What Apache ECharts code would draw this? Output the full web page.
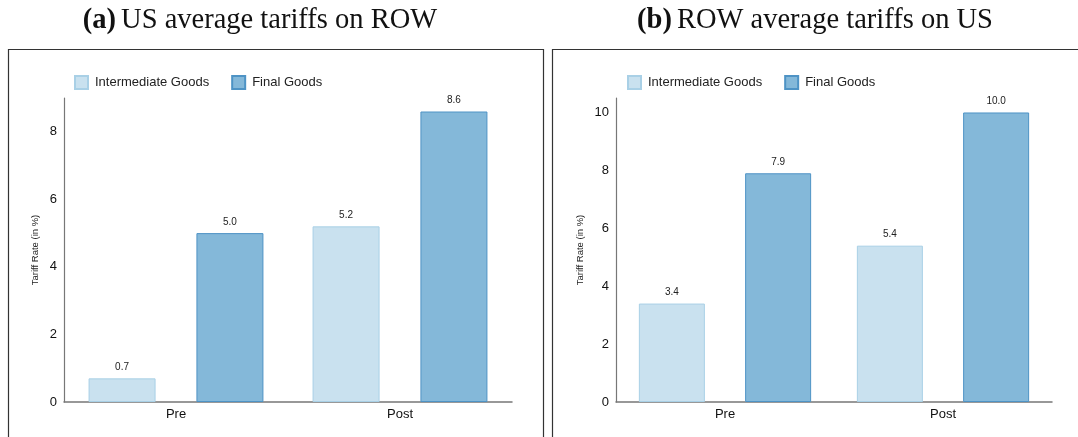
<!DOCTYPE html>
<html>
<head>
<meta charset="utf-8">
<script src="https://cdn.jsdelivr.net/npm/echarts@6/dist/echarts.min.js"></script>
<style>
  html, body { margin: 0; padding: 0; background: #fff; }
  #chart { width: 1078px; height: 437px; }
</style>
</head>
<body>
<div id="chart"></div>
<script>
// Average tariff rates (in %) before and after, by goods type
const categories = ['Pre', 'Post'];
const seriesNames = ['Intermediate Goods', 'Final Goods'];
const usOnRowIntermediate = [0.7, 5.2];
const usOnRowFinal = [5.0, 8.6];
const rowOnUsIntermediate = [3.4, 5.4];
const rowOnUsFinal = [7.9, 10.0];
const panelTitles = [['(a)', 'US average tariffs on ROW'], ['(b)', 'ROW average tariffs on US']];
const yAxisName = 'Tariff Rate (in %)';

const sans = 'Liberation Sans, Arial, sans-serif';
const serif = 'Liberation Serif, Times New Roman, serif';
const colInter = '#c9e1ef', colInterBorder = '#a9d0e6';
const colFinal = '#84b8d9', colFinalBorder = '#4e93c5';

const chart = echarts.init(document.getElementById('chart'), null, { renderer: 'canvas' });

function barSeries(name, data, axisIdx, fill, border, width) {
  return {
    name: name,
    type: 'bar',
    xAxisIndex: axisIdx,
    yAxisIndex: axisIdx,
    data: data,
    barWidth: width,
    barGap: '61%',
    itemStyle: { color: fill, borderColor: border, borderWidth: 1 },
    label: {
      show: true,
      position: 'top',
      distance: 6,
      fontFamily: sans,
      fontSize: 10,
      color: '#222',
      formatter: p => p.value.toFixed(1)
    },
    emphasis: { disabled: true },
    animation: false
  };
}

function titleOf(i, cx) {
  return {
    left: cx,
    top: 1,
    textAlign: 'center',
    text: '{b|' + panelTitles[i][0] + '} {n|' + panelTitles[i][1] + '}',
    textStyle: {
      fontWeight: 'normal',
      rich: {
        b: { fontFamily: serif, fontSize: 28.5, fontWeight: 'bold', color: '#111' },
        n: { fontFamily: serif, fontSize: 28.5, fontWeight: 'normal', color: '#111' }
      }
    }
  };
}

function legendOf(left) {
  return {
    left: left,
    top: 75,
    padding: 0,
    itemWidth: 13,
    itemHeight: 13,
    itemGap: 22,
    icon: 'rect',
    textStyle: { fontFamily: sans, fontSize: 13, color: '#222', padding: [0, 0, 0, 2] },
    data: seriesNames,
    selectedMode: false
  };
}

function yAxisOf(idx, max, nameGap) {
  return {
    type: 'value',
    gridIndex: idx,
    min: 0,
    max: max,
    interval: 2,
    name: yAxisName,
    nameLocation: 'middle',
    nameRotate: 90,
    nameGap: nameGap,
    nameTextStyle: { fontFamily: sans, fontSize: 9.5, color: '#222' },
    axisLine: { show: true, lineStyle: { color: '#777', width: 1.2 } },
    axisTick: { show: false },
    splitLine: { show: false },
    axisLabel: { fontFamily: sans, fontSize: 13, color: '#111', margin: 7, showMaxLabel: false }
  };
}

function xAxisOf(idx) {
  return {
    type: 'category',
    gridIndex: idx,
    data: categories,
    axisLine: { show: true, lineStyle: { color: '#777', width: 1.5 } },
    axisTick: { show: false },
    axisLabel: { fontFamily: sans, fontSize: 13, color: '#111', margin: 6 }
  };
}

chart.setOption({
  backgroundColor: '#fff',
  animation: false,
  title: [titleOf(0, 255), titleOf(1, 810)],
  legend: [
    Object.assign(legendOf(74), { id: 'l0' }),
    Object.assign(legendOf(627), { id: 'l1' })
  ],
  grid: [
    { left: 64, right: 566, top: 98, bottom: 35 },
    { left: 616, right: 26, top: 98, bottom: 35 }
  ],
  xAxis: [xAxisOf(0), xAxisOf(1)],
  yAxis: [yAxisOf(0, 9, 24), yAxisOf(1, 10.5, 31)],
  series: [
    barSeries(seriesNames[0], usOnRowIntermediate, 0, colInter, colInterBorder, 67),
    barSeries(seriesNames[1], usOnRowFinal, 0, colFinal, colFinalBorder, 67),
    barSeries(seriesNames[0], rowOnUsIntermediate, 1, colInter, colInterBorder, 66),
    barSeries(seriesNames[1], rowOnUsFinal, 1, colFinal, colFinalBorder, 66)
  ],
  graphic: [
    // panel frames
    { type: 'rect', shape: { x: 8.5, y: 49.5, width: 535, height: 420 },
      style: { fill: null, stroke: '#333', lineWidth: 1.2 }, silent: true, z: -1 },
    { type: 'rect', shape: { x: 552.5, y: 49.5, width: 600, height: 420 },
      style: { fill: null, stroke: '#333', lineWidth: 1.2 }, silent: true, z: -1 }
  ]
});
</script>
</body>
</html>
